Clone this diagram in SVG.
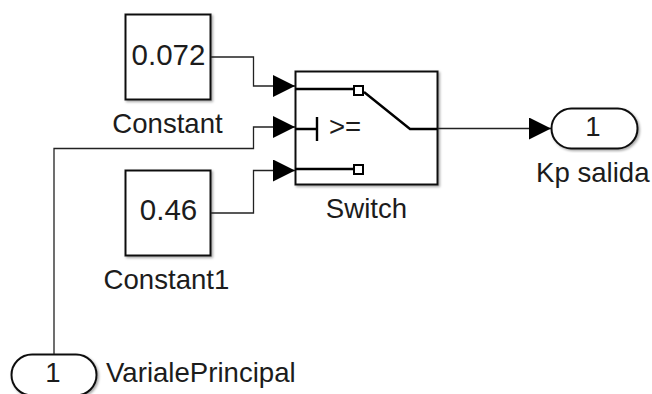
<svg xmlns="http://www.w3.org/2000/svg" width="652" height="394" viewBox="0 0 652 394">
<defs>
<filter id="sh" x="-10%" y="-10%" width="120%" height="120%"><feDropShadow dx="1.5" dy="1.5" stdDeviation="1" flood-color="#000" flood-opacity="0.35"/></filter>
<marker id="arr" markerUnits="userSpaceOnUse" markerWidth="22" markerHeight="24" refX="22" refY="11" orient="auto"><path d="M0 0L22 11L0 22Z" fill="#000"/></marker>
</defs>
<style>
text{font-family:"Liberation Sans",Arial,sans-serif;font-size:27.6px;fill:#1c1c1c}
.m{text-anchor:middle}
.n{font-size:29.5px}
.b{fill:#fff;stroke:#111;stroke-width:2;filter:url(#sh)}
.c{fill:none;stroke:#222;stroke-width:1.3}
.i{fill:none;stroke:#000;stroke-width:2.4}
</style>
<rect width="652" height="394" fill="#fff"/>
<g id="constant"><rect class="b" x="125.500" y="14.500" width="85" height="85"/><text class="m n" x="168.500" y="65">0.072</text><text class="m" x="167.500" y="133">Constant</text></g>
<g id="constant1"><rect class="b" x="125.500" y="170.500" width="85" height="85"/><text class="m n" x="168.500" y="220">0.46</text><text class="m" x="166.500" y="289">Constant1</text></g>
<g id="switch"><rect class="b" x="295.500" y="71.500" width="142" height="113"/>
<path class="i" d="M295 89H354M295 129H317M317 117V141M295 169H354M364 92L410 129H437"/>
<rect x="354" y="86" width="9" height="9" fill="#fff" stroke="#000" stroke-width="2"/><rect x="354" y="165" width="9" height="9" fill="#fff" stroke="#000" stroke-width="2"/>
<text x="329" y="136">&gt;=</text><text class="m" x="366.500" y="218">Switch</text></g>
<g id="inport"><rect class="b" x="11.500" y="354.500" width="85" height="41" rx="20.500"/><text class="m" x="53" y="382">1</text><text x="106" y="382">VarialePrincipal</text></g>
<g id="outport"><rect class="b" x="551.500" y="108.500" width="86" height="40" rx="20"/><text class="m" x="593" y="136">1</text><text x="536" y="182">Kp salida</text></g>
<g id="connectors">
<path class="c" marker-end="url(#arr)" d="M211 57H253.500V86H295"/>
<path class="c" marker-end="url(#arr)" d="M54 354V148.500H253.500V127H295"/>
<path class="c" marker-end="url(#arr)" d="M211 213H253.500V170.500H295"/>
<path class="c" marker-end="url(#arr)" d="M438 128.500H551"/>
</g>
</svg>
